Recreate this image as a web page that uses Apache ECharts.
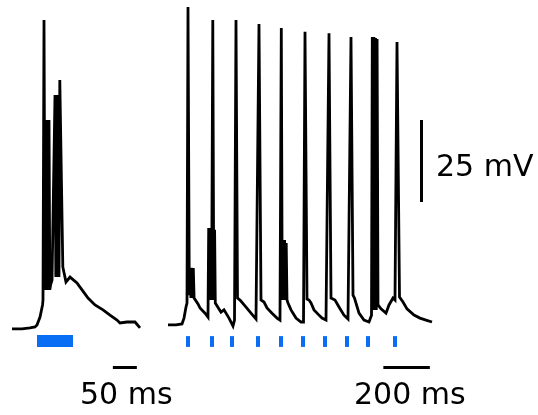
<!DOCTYPE html>
<html>
<head>
<meta charset="utf-8">
<script src="https://cdn.jsdelivr.net/npm/echarts@6/dist/echarts.min.js"></script>
<style>
html,body{margin:0;padding:0;background:#fff;}
#chart{width:538px;height:415px;}
</style>
</head>
<body>
<div id="chart"></div>
<script>
// ---- Left trace: single light pulse (time in ms, membrane potential in mV)
const leftTimeMs = [-52.1,-31.3,-14.6,-4.2,0,6.3,11.5,12.5,14.6,16.7,18.3,20.0,21.7,23.3,25.0,26.7,28.3,31.3,35.4,37.5,39.2,40.8,42.5,44.2,45.8,47.5,50.6,53.8,60.4,68.8,83.3,93.8,106.3,120.8,137.5,152.1,166.7,172.9,187.5,204.2,214.6];
const leftVoltageMv = [-71.7,-71.7,-71.4,-71.1,-70.5,-68.1,-64.4,-62.9,22.5,-59.8,-8.0,-59.8,-8.0,-59.8,-8.0,-59.8,-58.3,-56.8,-57.4,-0.4,-55.9,-0.4,-55.9,-0.4,-55.9,4.2,3.6,-52.8,-57.4,-55.9,-57.7,-59.8,-62.3,-64.4,-65.9,-67.5,-69.0,-69.9,-69.6,-69.6,-71.4];

// ---- Right trace: 10 Hz train
const rightTimeMs = [-86,-51.6,-25.8,-17.2,-8.6,-4.3,0,5.6,9.0,12.5,15.9,19.4,22.8,26.2,34.4,43,51.6,73.1,86,89.0,92.5,95.9,99.3,102.8,106.6,110.9,114.4,117.4,120.4,141.9,154.8,176.3,193.5,200,206.4,212.9,223.6,245.1,270.9,292.4,298.9,305.3,313.9,326.8,339.7,361.2,382.7,395.6,401.2,405.1,408.5,412.0,415.4,418.8,422.3,425.7,430,442.9,464.4,485.9,496.7,503.1,511.7,520.3,528.9,541.8,559,576.2,593.4,599.9,606.3,614.9,632.1,649.3,670.8,688,694.5,700.9,709.5,715.9,722.4,735.3,756.8,778.3,789.1,792.5,795.9,799.4,802.8,806.3,809.7,813.1,817.0,829.9,851.4,864.3,881.5,890.1,898.7,909.5,924.5,941.7,971.8,997.6,1023.4,1049.2];
const rightVoltageMv = [-70.5,-70.5,-70.2,-68.4,-65.0,-63.8,26.5,-61.4,-53.1,-62.3,-53.1,-62.3,-53.1,-62.3,-62.9,-64.1,-65.3,-66.9,-68.1,-40.9,-62.9,-40.9,-62.9,-40.9,22.5,-62.9,-41.5,-63.8,-64.4,-66.6,-65.9,-68.4,-70.8,-69.0,22.5,-62.3,-62.9,-64.7,-66.9,-68.7,-69.0,21.3,-62.9,-63.5,-65.3,-66.9,-68.4,-69.0,20.1,-62.9,-44.6,-62.9,-44.6,-62.9,-45.5,-62.9,-63.8,-65.9,-68.4,-69.6,-69.6,18.9,-62.6,-62.9,-63.8,-65.9,-67.2,-68.4,-69.0,-69.0,18.5,-62.3,-62.9,-65.0,-67.5,-68.7,-69.0,17.3,-61.4,-62.3,-62.9,-66.9,-69.0,-69.6,-67.5,17.3,-65.9,17.3,-65.9,17.0,-65.9,16.7,-64.4,-65.6,-66.9,-64.4,-62.3,-62.9,15.8,-62.0,-63.5,-65.6,-67.5,-68.4,-69.0,-69.6];

// ---- Light stimuli
const leftPulseMs = [0, 75];
const rightStimTimesMs = [0, 103, 189, 301, 400, 495, 589, 684, 774, 890];
const stimRowMv = -75.4;
const stimTickMv = [-73.9, -77.2];

// ---- Scale bars
const leftScaleMs = [158, 208];     // 50 ms
const rightScaleMs = [840, 1040];   // 200 ms
const scaleBarRowMv = -83.3;
const voltScaleTimeMs = 1002;
const voltScaleMv = [-33, -8];      // 25 mV

const labels = ['50 ms', '200 ms', '25 mV'];

const zip = (a, b) => a.map((v, i) => [v, b[i]]);
const BLUE = '#0a6ef5';
const FONT = '30px "DejaVu Sans", Verdana, sans-serif';

const chart = echarts.init(document.getElementById('chart'), null, {renderer: 'canvas'});
chart.setOption({
  animation: false,
  backgroundColor: '#ffffff',
  grid: [
    {left: 1, top: 2, width: 156, height: 386.9},
    {left: 164.74, top: 2, width: 302.33, height: 386.9}
  ],
  xAxis: [
    {type: 'value', gridIndex: 0, min: -75, max: 250, show: false},
    {type: 'value', gridIndex: 1, min: -100, max: 1200, show: false}
  ],
  yAxis: [
    {type: 'value', gridIndex: 0, min: -90, max: 28, show: false},
    {type: 'value', gridIndex: 1, min: -90, max: 28, show: false}
  ],
  series: [
    {
      type: 'line', xAxisIndex: 0, yAxisIndex: 0,
      data: zip(leftTimeMs, leftVoltageMv),
      showSymbol: false, symbol: 'none',
      lineStyle: {color: '#000', width: 2.8, join: 'miter'}
    },
    {
      type: 'line', xAxisIndex: 1, yAxisIndex: 1,
      data: zip(rightTimeMs, rightVoltageMv),
      showSymbol: false, symbol: 'none',
      lineStyle: {color: '#000', width: 2.8, join: 'miter'}
    },
    {
      type: 'lines', coordinateSystem: 'cartesian2d', xAxisIndex: 0, yAxisIndex: 0,
      data: [{coords: [[leftPulseMs[0], stimRowMv], [leftPulseMs[1], stimRowMv]]}],
      lineStyle: {color: BLUE, width: 12, opacity: 1, cap: 'butt'}
    },
    {
      type: 'lines', coordinateSystem: 'cartesian2d', xAxisIndex: 1, yAxisIndex: 1,
      data: rightStimTimesMs.map(t => ({coords: [[t, stimTickMv[0]], [t, stimTickMv[1]]]})),
      lineStyle: {color: BLUE, width: 4, opacity: 1}
    },
    {
      type: 'lines', coordinateSystem: 'cartesian2d', xAxisIndex: 0, yAxisIndex: 0,
      data: [{coords: [[leftScaleMs[0], scaleBarRowMv], [leftScaleMs[1], scaleBarRowMv]]}],
      lineStyle: {color: '#000', width: 3, opacity: 1}
    },
    {
      type: 'lines', coordinateSystem: 'cartesian2d', xAxisIndex: 1, yAxisIndex: 1,
      data: [
        {coords: [[rightScaleMs[0], scaleBarRowMv], [rightScaleMs[1], scaleBarRowMv]]},
        {coords: [[voltScaleTimeMs, voltScaleMv[0]], [voltScaleTimeMs, voltScaleMv[1]]]}
      ],
      lineStyle: {color: '#000', width: 3, opacity: 1}
    }
  ],
  graphic: [
    {type: 'text', x: 80, y: 396.5, style: {text: labels[0], font: FONT, fill: '#000', align: 'left', verticalAlign: 'middle'}},
    {type: 'text', x: 354, y: 396.5, style: {text: labels[1], font: FONT, fill: '#000', align: 'left', verticalAlign: 'middle'}},
    {type: 'text', x: 436, y: 168, style: {text: labels[2], font: FONT, fill: '#000', align: 'left', verticalAlign: 'middle'}}
  ]
});
</script>
</body>
</html>
